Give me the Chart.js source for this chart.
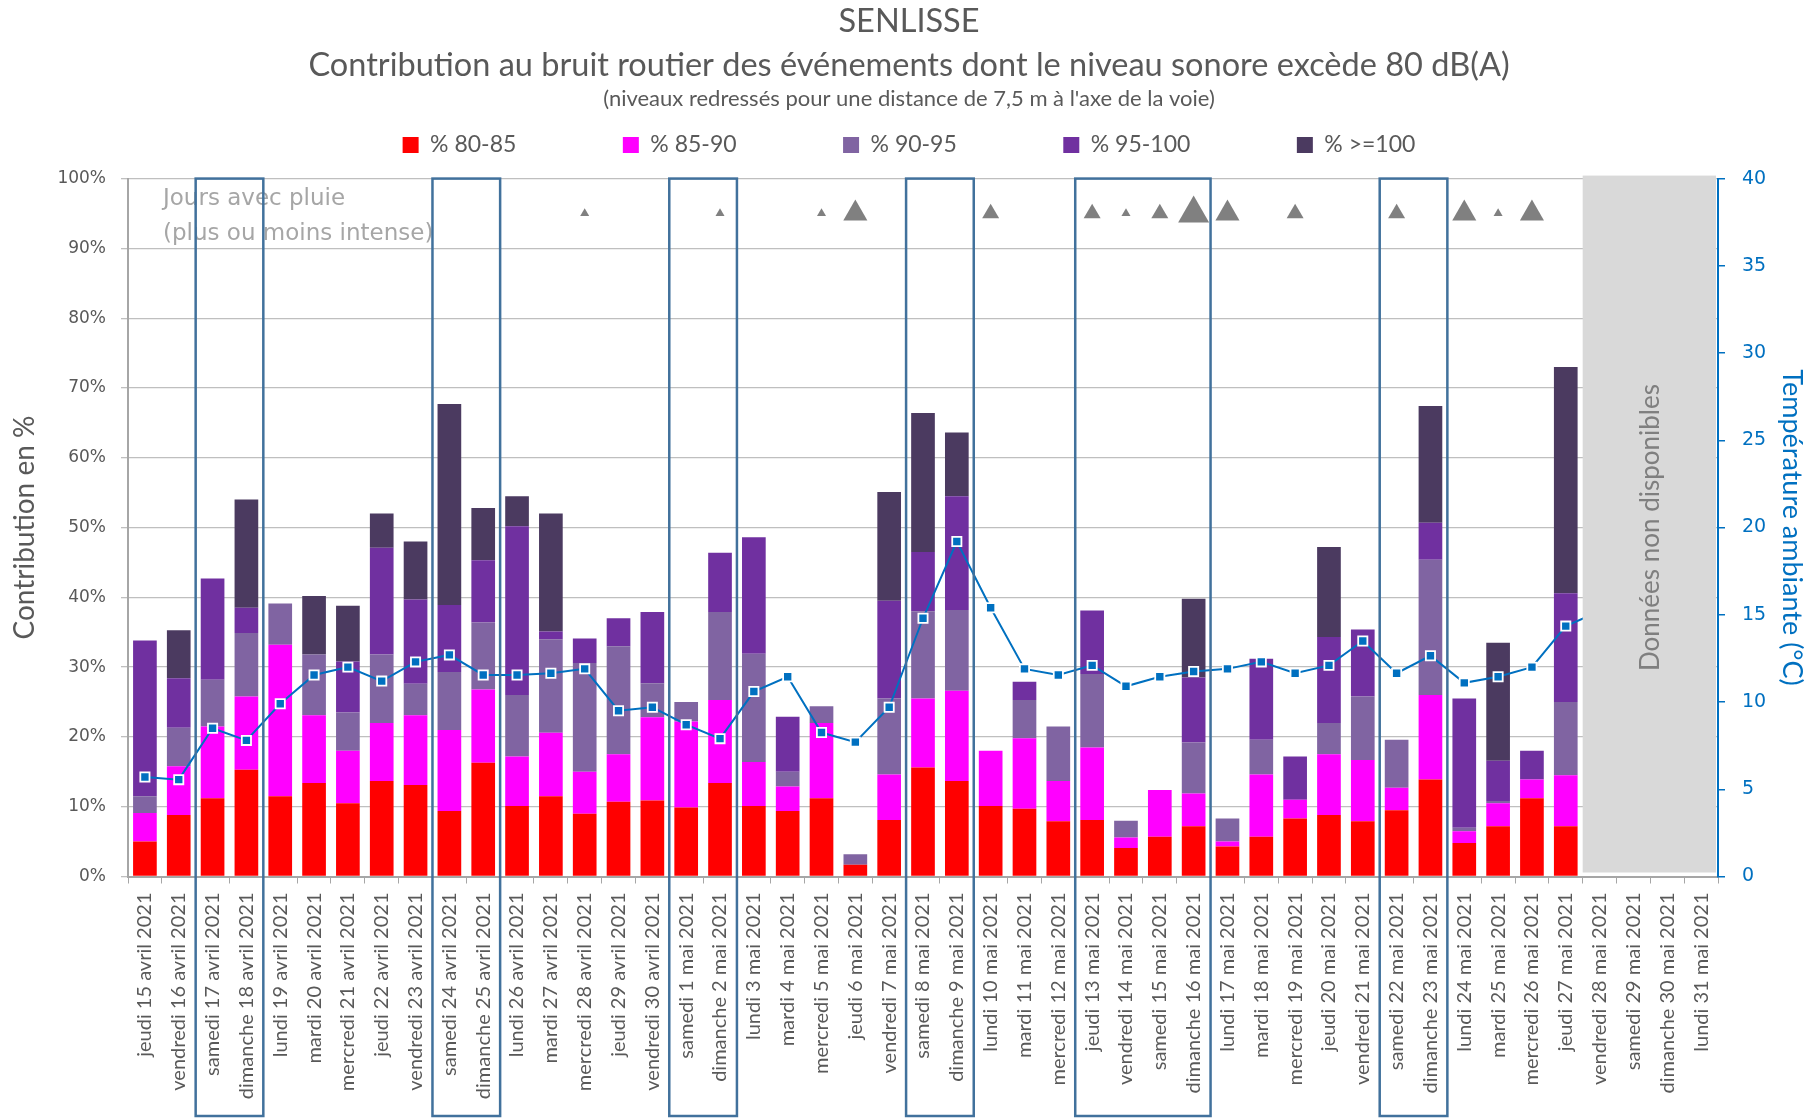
<!DOCTYPE html>
<html lang="fr">
<head>
<meta charset="utf-8">
<title>Senlisse - contribution au bruit routier</title>
<script src="https://cdn.jsdelivr.net/npm/chart.js@4.4.1/dist/chart.umd.min.js"></script>
<style>
  html, body { margin: 0; padding: 0; background: #fff; }
  #cadre { width: 1818px; height: 1119px; position: relative; }
</style>
</head>
<body>
<div id="cadre"><canvas id="graphe"></canvas></div>
<script>

// jours de mesure
const jours = [
  "jeudi 15 avril 2021", "vendredi 16 avril 2021", "samedi 17 avril 2021", "dimanche 18 avril 2021",
  "lundi 19 avril 2021", "mardi 20 avril 2021", "mercredi 21 avril 2021", "jeudi 22 avril 2021",
  "vendredi 23 avril 2021", "samedi 24 avril 2021", "dimanche 25 avril 2021", "lundi 26 avril 2021",
  "mardi 27 avril 2021", "mercredi 28 avril 2021", "jeudi 29 avril 2021", "vendredi 30 avril 2021",
  "samedi 1 mai 2021", "dimanche 2 mai 2021", "lundi 3 mai 2021", "mardi 4 mai 2021",
  "mercredi 5 mai 2021", "jeudi 6 mai 2021", "vendredi 7 mai 2021", "samedi 8 mai 2021",
  "dimanche 9 mai 2021", "lundi 10 mai 2021", "mardi 11 mai 2021", "mercredi 12 mai 2021",
  "jeudi 13 mai 2021", "vendredi 14 mai 2021", "samedi 15 mai 2021", "dimanche 16 mai 2021",
  "lundi 17 mai 2021", "mardi 18 mai 2021", "mercredi 19 mai 2021", "jeudi 20 mai 2021",
  "vendredi 21 mai 2021", "samedi 22 mai 2021", "dimanche 23 mai 2021", "lundi 24 mai 2021",
  "mardi 25 mai 2021", "mercredi 26 mai 2021", "jeudi 27 mai 2021", "vendredi 28 mai 2021",
  "samedi 29 mai 2021", "dimanche 30 mai 2021", "lundi 31 mai 2021"
];

// contribution (%) par classe de niveau, pas de donnees les 4 derniers jours
const p80_85 = [5.0, 8.8, 11.2, 15.3, 11.5, 13.4, 10.5, 13.7, 13.1, 9.4, 16.3, 10.1, 11.5, 9.0, 10.7, 10.9,
  9.9, 13.4, 10.1, 9.4, 11.2, 1.7, 8.1, 15.6, 13.7, 10.1, 9.7, 7.9, 8.1, 4.1, 5.7, 7.2,
  4.3, 5.7, 8.3, 8.8, 7.9, 9.5, 13.9, 4.8, 7.2, 11.2, 7.2, null, null, null, null];
const p85_90 = [4.1, 7.0, 10.3, 10.5, 21.7, 9.7, 7.5, 8.3, 10.0, 11.6, 10.5, 7.1, 9.1, 6.0, 6.8, 11.9,
  12.3, 11.9, 6.3, 3.5, 10.8, 0, 6.5, 9.9, 12.9, 7.9, 10.1, 5.8, 10.4, 1.5, 6.7, 4.7,
  0.7, 8.9, 2.7, 8.7, 8.8, 3.2, 12.1, 1.7, 3.3, 2.7, 7.3, null, null, null, null];
const p90_95 = [2.4, 5.5, 6.7, 9.1, 5.9, 8.7, 5.5, 9.8, 4.5, 8.3, 9.6, 8.8, 13.4, 15.6, 15.5, 4.9,
  2.8, 12.6, 15.5, 2.1, 2.4, 1.5, 10.9, 12.5, 11.6, 0, 5.5, 7.8, 10.5, 2.4, 0, 7.3,
  3.3, 5.0, 0, 4.5, 9.1, 6.9, 19.4, 0.5, 0.3, 0, 10.5, null, null, null, null];
const p95_100 = [22.3, 7.1, 14.5, 3.6, 0, 0, 7.3, 15.3, 12.1, 9.6, 8.9, 24.2, 1.1, 3.5, 4.0, 10.2,
  0, 8.5, 16.7, 7.9, 0, 0, 14.0, 8.5, 16.3, 0, 2.6, 0, 9.1, 0, 0, 9.3,
  0, 11.6, 6.2, 12.3, 9.6, 0, 5.3, 18.5, 5.8, 4.1, 15.6, null, null, null, null];
const p100 = [0, 6.9, 0, 15.5, 0, 8.4, 8.0, 4.9, 8.3, 28.8, 7.5, 4.3, 16.9, 0, 0, 0,
  0, 0, 0, 0, 0, 0, 15.6, 19.9, 9.1, 0, 0, 0, 0, 0, 0, 11.3,
  0, 0, 0, 12.9, 0, 0, 16.7, 0, 16.9, 0, 32.4, null, null, null, null];

// temperature ambiante (°C)
const temperature = [5.7, 5.55, 8.5, 7.8, 9.9, 11.55, 12.0, 11.2, 12.3, 12.7, 11.55, 11.55, 11.65, 11.9, 9.5, 9.7,
  8.7, 7.9, 10.6, 11.45, 8.25, 7.7, 9.7, 14.8, 19.2, 15.4, 11.9, 11.55, 12.1, 10.9, 11.45, 11.75,
  11.9, 12.3, 11.65, 12.1, 13.5, 11.65, 12.65, 11.1, 11.45, 12.0, 14.35, 15.2, null, null, null];

// pluie : 0 aucune, 1 faible ... 4 forte
const pluie = [0, 0, 0, 0, 0, 0, 0, 0, 0, 0, 0, 0, 0, 1, 0, 0,
  0, 1, 0, 0, 1, 3, 0, 0, 0, 2, 0, 0, 2, 1, 2, 4,
  3, 0, 2, 0, 0, 2, 0, 3, 1, 3, 0, 0, 0, 0, 0];

// week-ends et pont encadres (premier et dernier jour)
const encadres = [[2, 3], [9, 10], [16, 17], [23, 24], [28, 31], [37, 38]];
const debutSansDonnees = 43;

const classes = ["% 80-85", "% 85-90", "% 90-95", "% 95-100", "% >=100"];
const series = [p80_85, p85_90, p90_95, p95_100, p100];
const couleurs = ["#ff0000", "#ff00ff", "#8064a2", "#7030a0", "#4b3a60"];
const taillePluie = [0, 5.2, 9.8, 13.9, 17.9];

const gris = "#595959";
const bleu = "#0070c0";

let datasets = series.map((s, i) => ({
  type: "bar",
  label: classes[i],
  data: s,
  backgroundColor: couleurs[i],
  borderWidth: 0,
  stack: "bruit",
  yAxisID: "y",
  order: 2,
  barPercentage: 0.7,
  categoryPercentage: 1
}));

datasets.push({
  type: "line",
  label: "Température",
  data: temperature,
  yAxisID: "y2",
  borderColor: bleu,
  borderWidth: 2,
  pointStyle: "rect",
  pointRadius: 6.5,
  pointBackgroundColor: bleu,
  pointBorderColor: "#ffffff",
  pointBorderWidth: 1.8,
  tension: 0,
  order: 1
});

datasets.push({
  type: "line",
  label: "Pluie",
  data: pluie.map(n => n ? 95 : null),
  yAxisID: "y",
  stack: "pluie",
  showLine: false,
  pointStyle: "triangle",
  pointRadius: pluie.map(n => taillePluie[n]),
  pointBackgroundColor: "#808080",
  pointBorderWidth: 0,
  order: 0
});

// textes, zone grise et cadres des week-ends
const decor = {
  id: "decor",
  beforeDatasetsDraw(chart) {
    const { ctx, chartArea, scales: { y } } = chart;
    ctx.save();
    ctx.fillStyle = "#a6a6a6";
    ctx.font = '23px "DejaVu Sans"';
    ctx.textBaseline = "middle";
    ctx.fillText("Jours avec pluie", chartArea.left + 35, y.getPixelForValue(97));
    ctx.fillText("(plus ou moins intense)", chartArea.left + 35, y.getPixelForValue(92));
    ctx.restore();
  },
  afterDatasetsDraw(chart) {
    const { ctx, chartArea, scales: { x, y } } = chart;
    const demi = (x.getPixelForValue(1) - x.getPixelForValue(0)) / 2;
    const gauche = x.getPixelForValue(debutSansDonnees) - demi;
    const haut = y.getPixelForValue(100) - 3;
    const bas = y.getPixelForValue(0) - 4;
    ctx.save();
    ctx.fillStyle = "#d9d9d9";
    ctx.fillRect(gauche, haut, chartArea.right - 2 - gauche, bas - haut);
    ctx.translate((gauche + chartArea.right) / 2, y.getPixelForValue(50));
    ctx.rotate(-Math.PI / 2);
    ctx.fillStyle = "#7f7f7f";
    ctx.font = "26px Lato";
    ctx.textAlign = "center";
    ctx.textBaseline = "middle";
    ctx.fillText("Données non disponibles", 0, 0);
    ctx.restore();
  },
  afterDraw(chart) {
    const { ctx, scales: { x, y } } = chart;
    const demi = (x.getPixelForValue(1) - x.getPixelForValue(0)) / 2;
    const haut = y.getPixelForValue(100);
    const bas = chart.height - 3;
    ctx.save();
    ctx.strokeStyle = "#41719c";
    ctx.lineWidth = 2.5;
    encadres.forEach(([d, f]) => {
      const g = x.getPixelForValue(d) - demi;
      const dr = x.getPixelForValue(f) + demi;
      ctx.strokeRect(g, haut, dr - g, bas - haut);
    });
    ctx.restore();
  }
};

new Chart(document.getElementById("graphe"), {
  data: { labels: jours, datasets: datasets },
  plugins: [decor],
  options: {
    responsive: true,
    maintainAspectRatio: false,
    animation: false,
    devicePixelRatio: 1,
    layout: { padding: 0 },
    plugins: {
      tooltip: { enabled: false },
      title: {
        display: true,
        text: ["SENLISSE", "Contribution au bruit routier des événements dont le niveau sonore excède 80 dB(A)"],
        color: gris,
        font: { family: "Lato", size: 32.5, weight: "normal", lineHeight: 1.335 },
        padding: { top: 0, bottom: 0 }
      },
      // petit espace entre la legende et le graphique
      subtitle: {
        display: true,
        text: "",
        weight: 900,
        font: { size: 10, lineHeight: 1 },
        padding: { top: 2.1, bottom: 0 }
      },
      legend: {
        display: true,
        position: "top",
        title: {
          display: true,
          text: "(niveaux redressés pour une distance de 7,5 m à l'axe de la voie)",
          color: gris,
          font: { family: "Lato", size: 22, lineHeight: 1.2 },
          padding: { top: 1.2, bottom: 16.1 }
        },
        labels: {
          boxWidth: 16,
          boxHeight: 16,
          padding: 3,
          color: gris,
          font: { family: "Lato", size: 23 },
          generateLabels(chart) {
            return Chart.defaults.plugins.legend.labels.generateLabels(chart)
              .filter(l => l.datasetIndex < 5)
              .map(l => {
                if (l.datasetIndex < 4) l.text += "\u2003".repeat(6);
                return l;
              });
          }
        }
      }
    },
    scales: {
      x: {
        stacked: true,
        offset: true,
        grid: { drawOnChartArea: false, drawTicks: true, tickLength: 7, color: "#a6a6a6", offset: true },
        border: { color: "#a6a6a6", width: 2 },
        ticks: {
          autoSkip: false,
          maxRotation: 90,
          minRotation: 90,
          padding: 9,
          color: gris,
          font: { family: "Lato", size: 20 }
        },
        afterFit(scale) { scale.height = 242.5; }
      },
      y: {
        stacked: true,
        position: "left",
        min: 0,
        max: 100,
        ticks: {
          stepSize: 10,
          padding: 15,
          color: gris,
          font: { family: "DejaVu Sans", size: 17 },
          callback: v => v + "%"
        },
        grid: { color: "#bfbfbf", lineWidth: 1.3, tickLength: 7 },
        border: { color: "#a6a6a6", width: 2 },
        title: {
          display: true,
          text: "Contribution en %",
          color: gris,
          font: { family: "Lato", size: 28 },
          padding: { top: 8.2, bottom: 0 }
        },
        afterFit(scale) { scale.width = 128; }
      },
      y2: {
        position: "right",
        min: 0,
        max: 40,
        ticks: {
          stepSize: 5,
          padding: 17,
          color: bleu,
          font: { family: "DejaVu Sans", size: 19 }
        },
        grid: { drawOnChartArea: false, color: bleu, lineWidth: 1.5, tickLength: 7 },
        border: { color: bleu, width: 2 },
        title: {
          display: true,
          text: "Température ambiante (°C)",
          color: bleu,
          font: { family: "Lato", size: 27 },
          padding: { top: 9.8, bottom: 0 }
        },
        afterFit(scale) { scale.width = 100; }
      }
    }
  }
});
</script>
</body>
</html>
